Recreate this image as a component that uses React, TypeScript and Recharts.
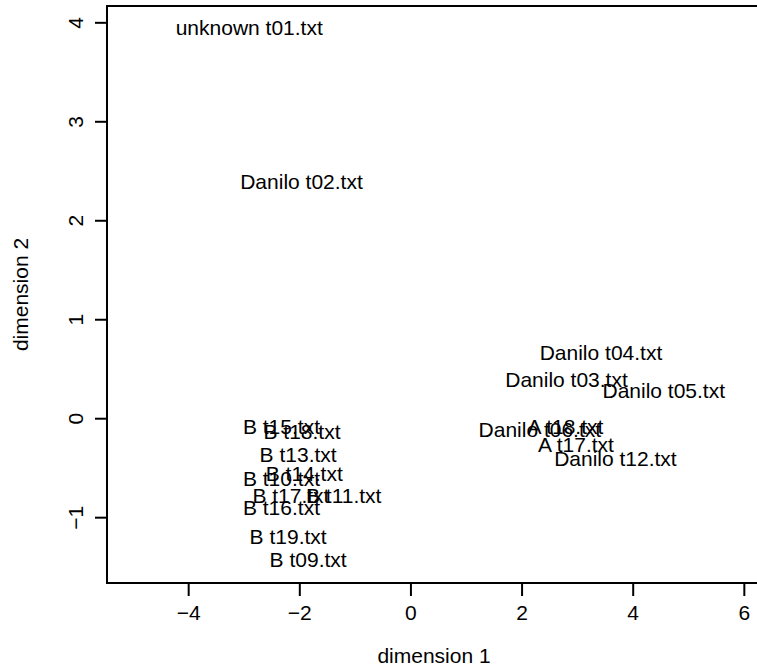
import { ScatterChart, Scatter, XAxis, YAxis, ReferenceArea } from "recharts";

const labels = [
  "unknown t01.txt",
  "Danilo t02.txt",
  "Danilo t04.txt",
  "Danilo t03.txt",
  "Danilo t05.txt",
  "Danilo t06.txt",
  "A t18.txt",
  "A t17.txt",
  "Danilo t12.txt",
  "B t15.txt",
  "B t18.txt",
  "B t13.txt",
  "B t14.txt",
  "B t10.txt",
  "B t17.txt",
  "B t11.txt",
  "B t16.txt",
  "B t19.txt",
  "B t09.txt",
];
const dim1 = [-2.91, -1.97, 3.42, 2.8, 4.55, 2.32, 2.78, 2.97, 3.68, -2.33, -1.96, -2.03, -1.92, -2.33, -2.16, -1.21, -2.33, -2.21, -1.85];
const dim2 = [3.95, 2.4, 0.67, 0.4, 0.29, -0.11, -0.08, -0.26, -0.4, -0.08, -0.13, -0.36, -0.55, -0.6, -0.78, -0.78, -0.9, -1.19, -1.42];

const xTicks = [-4, -2, 0, 2, 4, 6];
const yTicks = [-1, 0, 1, 2, 3, 4];
const xDomain = [-5.47, 6.3];
const yDomain = [-1.66, 4.17];

const FONT = "'Liberation Sans', Helvetica, Arial, sans-serif";
const FS = 21;

const points = labels.map((label, i) => ({ label, x: dim1[i], y: dim2[i] }));

const fmt = (v: number) => String(v).replace("-", "\u2212");

function LabelShape(props: any) {
  const { cx, cy, payload } = props;
  return (
    <text x={cx} y={cy} textAnchor="middle" dominantBaseline="central" fontFamily={FONT} fontSize={FS} fill="#000">
      {payload.label}
    </text>
  );
}

function XTick({ x, y, payload }: any) {
  return (
    <text x={x} y={y} dy="0.71em" textAnchor="middle" fontFamily={FONT} fontSize={FS} fill="#000">
      {fmt(payload.value)}
    </text>
  );
}

function YTick({ x, y, payload }: any) {
  return (
    <text x={x} y={y} textAnchor="middle" transform={`rotate(-90, ${x}, ${y})`} fontFamily={FONT} fontSize={FS} fill="#000">
      {fmt(payload.value)}
    </text>
  );
}

export default function App() {
  return (
    <div style={{ position: "absolute", left: 0, top: 0, width: 757, height: 668, overflow: "hidden", background: "#fff" }}>
      <ScatterChart width={780} height={668} margin={{ top: 6, right: 19, bottom: 0, left: 0 }}>
        <XAxis
          type="number"
          dataKey="x"
          domain={xDomain}
          ticks={xTicks}
          allowDataOverflow
          height={85}
          axisLine={false}
          tickSize={13}
          tickMargin={9}
          tickLine={{ stroke: "#000", strokeWidth: 2 }}
          tick={<XTick />}
          label={{
            content: ({ viewBox }: any) => (
              <text
                x={viewBox.x + viewBox.width / 2}
                y={viewBox.y + 72}
                textAnchor="middle"
                dominantBaseline="central"
                fontFamily={FONT}
                fontSize={FS}
                fill="#000"
              >
                dimension 1
              </text>
            ),
          }}
        />
        <YAxis
          type="number"
          dataKey="y"
          domain={yDomain}
          ticks={yTicks}
          allowDataOverflow
          width={107}
          axisLine={false}
          tickSize={12}
          tickMargin={12}
          tickLine={{ stroke: "#000", strokeWidth: 2 }}
          tick={<YTick />}
          label={{
            content: ({ viewBox }: any) => {
              const cx = viewBox.x + 20;
              const cy = viewBox.y + viewBox.height / 2;
              return (
                <text
                  x={cx}
                  y={cy}
                  textAnchor="middle"
                  dominantBaseline="central"
                  transform={`rotate(-90, ${cx}, ${cy})`}
                  fontFamily={FONT}
                  fontSize={FS}
                  fill="#000"
                >
                  dimension 2
                </text>
              );
            },
          }}
        />
        <ReferenceArea
          x1={xDomain[0]}
          x2={xDomain[1]}
          y1={yDomain[0]}
          y2={yDomain[1]}
          fill="none"
          stroke="#000"
          strokeWidth={2}
          ifOverflow="visible"
        />
        <Scatter data={points} shape={<LabelShape />} isAnimationActive={false} />
      </ScatterChart>
    </div>
  );
}
